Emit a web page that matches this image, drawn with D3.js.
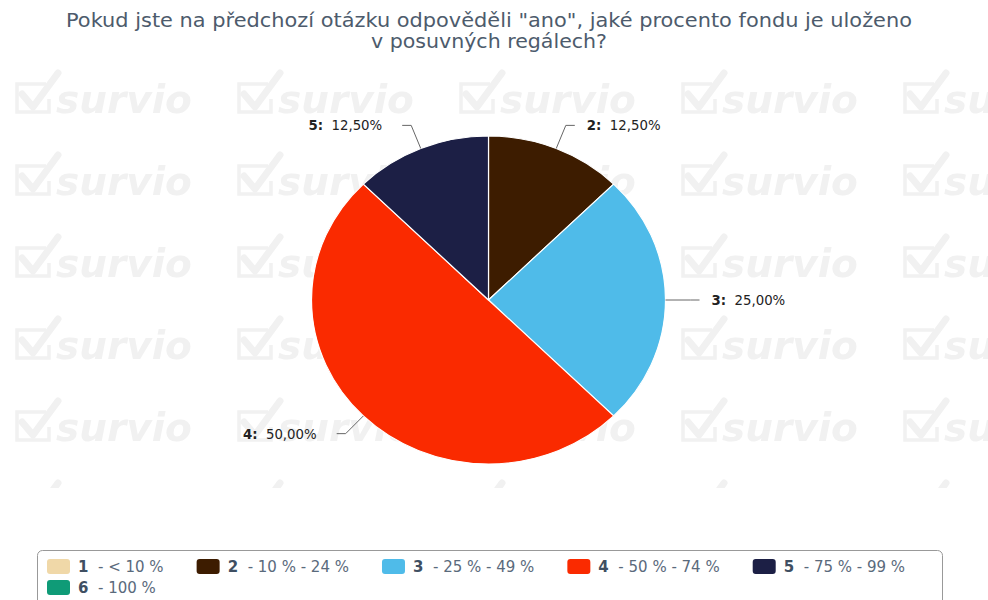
<!DOCTYPE html>
<html>
<head>
<meta charset="utf-8">
<script src="https://cdn.jsdelivr.net/npm/d3@7/dist/d3.min.js"></script>
<style>
  html, body { margin: 0; padding: 0; background: #fff; }
  svg { display: block; font-family: "DejaVu Sans", sans-serif; }
</style>
</head>
<body>
<svg id="chart" width="988" height="600"></svg>
<script>
// Answer categories, their ranges, shares of respondents and colours
const categories = ["1", "2", "3", "4", "5", "6"];
const categoryRanges = ["< 10 %", "10 % - 24 %", "25 % - 49 %", "50 % - 74 %", "75 % - 99 %", "100 %"];
const shares = [0, 12.5, 25, 50, 12.5, 0];
const colors = ["#f0d8a8", "#3d1c00", "#4fbbe9", "#fa2a00", "#1c1f45", "#0f9b77"];
const titleLines = ["Pokud jste na předchozí otázku odpověděli \"ano\", jaké procento fondu je uloženo", "v posuvných regálech?"];

const W = 988, H = 600;
const svg = d3.select("#chart");

// ---- tiled watermark in the plot background ----
const defs = svg.append("defs");
const pat = defs.append("pattern")
  .attr("id", "wm")
  .attr("patternUnits", "userSpaceOnUse")
  .attr("x", 0).attr("y", 53)
  .attr("width", 222).attr("height", 82);
const wmColor = "#f1f1f1";
pat.append("path")
  .attr("d", "M46,31 L17,31 L17,59 L49,59 L49,46")
  .attr("fill", "none").attr("stroke", wmColor).attr("stroke-width", 3.5);
pat.append("path")
  .attr("d", "M22,41 L33,54 L58,20")
  .attr("fill", "none").attr("stroke", wmColor).attr("stroke-width", 7)
  .attr("stroke-linecap", "round").attr("stroke-linejoin", "round");
pat.append("text")
  .attr("x", 56).attr("y", 60)
  .attr("font-family", "DejaVu Sans, sans-serif")
  .attr("font-weight", "bold").attr("font-style", "italic")
  .attr("font-size", 39)
  .attr("fill", wmColor)
  .text("survio");
svg.append("rect")
  .attr("x", 0).attr("y", 62).attr("width", W).attr("height", 426)
  .attr("fill", "url(#wm)");

// ---- title ----
const titleWidths = [846, 236];
const title = svg.append("text")
  .attr("text-anchor", "middle")
  .attr("fill", "#4d5b6c")
  .attr("font-size", 19.5);
titleLines.forEach((t, i) => {
  title.append("tspan")
    .attr("x", 489).attr("y", 27 + i * 21)
    .attr("textLength", titleWidths[i])
    .attr("lengthAdjust", "spacingAndGlyphs")
    .text(t);
});

// ---- pie ----
const cx = 488.5, cy = 300, R = 177, Ry = 164;
const data = categories.map((c, i) => ({ cat: c, range: categoryRanges[i], value: shares[i], color: colors[i] }))
  .filter(d => d.value > 0);
const pie = d3.pie().sort(null).value(d => d.value);
const arcs = pie(data);
const arc = d3.arc().innerRadius(0).outerRadius(R);

const g = svg.append("g").attr("transform", `translate(${cx},${cy}) scale(1,${Ry / R})`);
g.selectAll("path.slice")
  .data(arcs)
  .join("path")
  .attr("class", "slice")
  .attr("d", arc)
  .attr("fill", d => d.data.color)
  .attr("stroke", "#fff")
  .attr("stroke-width", 1.2)
  .attr("stroke-linejoin", "round");

// ---- data labels with connectors ----
const fmt = v => d3.format(".2f")(v).replace(".", ",") + "%";
const total = d3.sum(data, d => d.value);
const labels = svg.append("g");
arcs.forEach(a => {
  const m = (a.startAngle + a.endAngle) / 2;
  const s = Math.sin(m), c = Math.cos(m);
  const right = s >= -1e-9;
  const p0 = [cx + R * s, cy - Ry * c];
  const p1 = [cx + (R + 25) * s, cy - (Ry + 25) * c];
  const p2 = [p1[0] + (right ? 9 : -9), p1[1]];
  labels.append("path")
    .attr("d", d3.line()([p0, p1, p2]))
    .attr("fill", "none")
    .attr("stroke", "#666")
    .attr("stroke-width", 1);
  const t = labels.append("text")
    .attr("x", p2[0] + (right ? 12 : -20))
    .attr("y", p1[1] + 5)
    .attr("text-anchor", right ? "start" : "end")
    .attr("font-size", 13.3)
    .attr("fill", "#222");
  t.append("tspan").attr("font-weight", "bold").text(a.data.cat + ":");
  t.append("tspan").text("\u00a0 " + fmt(a.data.value / total * 100));
});

// ---- legend ----
const lg = svg.append("g");
lg.append("rect")
  .attr("x", 37.5).attr("y", 550.5)
  .attr("width", 905).attr("height", 80)
  .attr("rx", 5)
  .attr("fill", "#fff")
  .attr("stroke", "#999");

let lx = 47, ly = 0;
const rowH = 21, maxX = 935;
categories.forEach((c, i) => {
  const item = lg.append("g");
  item.append("rect")
    .attr("x", 0).attr("y", -13).attr("width", 23).attr("height", 15)
    .attr("rx", 3)
    .attr("fill", colors[i]);
  item.append("text")
    .attr("x", 31).attr("y", 0)
    .attr("font-size", 15).attr("font-weight", "bold")
    .attr("fill", "#3f4f62")
    .text(c);
  const txt = item.append("text")
    .attr("x", 51).attr("y", 0)
    .attr("font-size", 15)
    .attr("fill", "#5a6a7c")
    .text("- " + categoryRanges[i]);
  const w = 51 + txt.node().getComputedTextLength();
  if (lx + w > maxX) { lx = 47; ly += 1; }
  item.attr("transform", `translate(${lx},${572 + ly * rowH})`);
  lx += w + 33;
});
</script>
</body>
</html>
